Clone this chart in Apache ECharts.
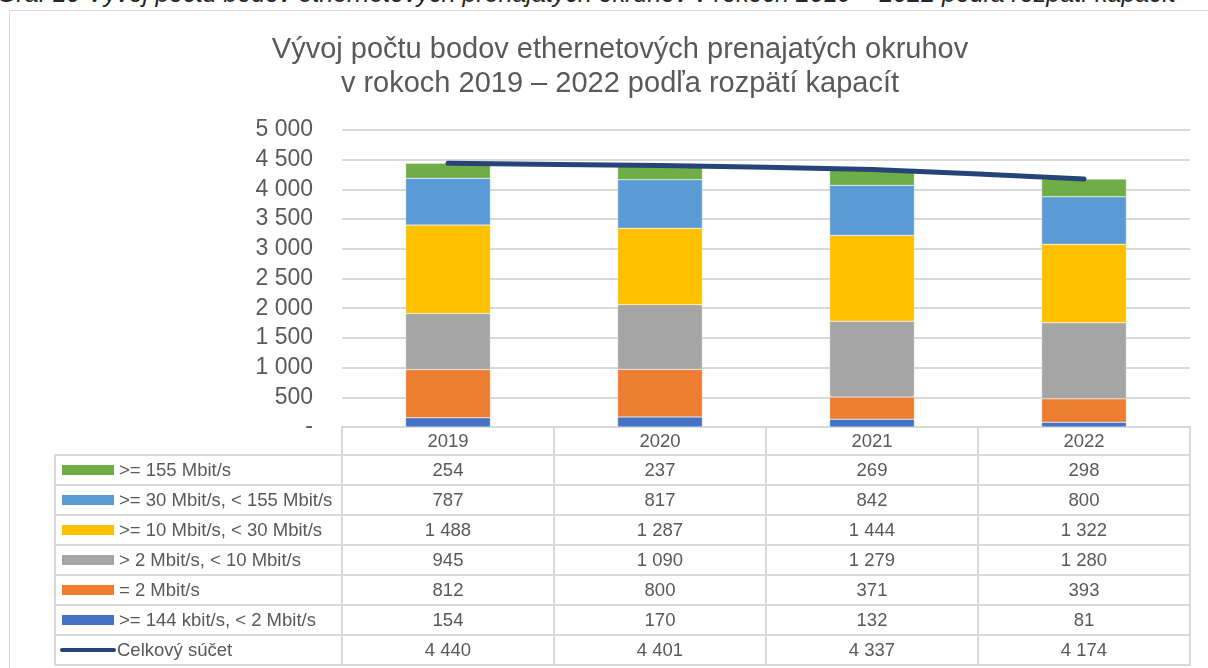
<!DOCTYPE html>
<html lang="sk">
<head>
<meta charset="UTF-8">
<title>Vývoj počtu bodov ethernetových prenajatých okruhov</title>
<script src="https://cdn.jsdelivr.net/npm/echarts@6/dist/echarts.min.js"></script>
<style>
    body { margin: 0; background: #fff; font-family: "Liberation Sans", Arial, sans-serif; }
    #wrap { position: relative; width: 1208px; height: 668px; overflow: hidden; }
    #caption {
        position: absolute; left: -3px; top: -21px; white-space: nowrap;
        font-style: italic; font-size: 25px; color: #262626; line-height: 29px;
    }
    #frame {
        position: absolute; left: 9px; top: 10px; width: 1210px; height: 670px;
        border: 1px solid #D9D9D9; box-sizing: border-box;
    }
    #chart { position: absolute; left: 0; top: 0; width: 1208px; height: 668px; }
    #tbl {
        position: absolute; left: 54px; top: 427px; border-collapse: collapse;
        font-size: 18.5px; color: #595959;
    }
    #tbl td { border: 2px solid #D9D9D9; height: 28px; padding: 0; text-align: center; }
    #tbl td.name { text-align: left; padding-left: 6px; white-space: nowrap; }
    #tbl tr.head td { height: 27px; border-top: 0; }
    #tbl tr.head td.blank { border: 0; border-bottom: 2px solid #D9D9D9; border-right: 2px solid #D9D9D9; }
    .sw { display: inline-block; width: 52px; height: 10px; margin-right: 5px; vertical-align: 1px; }
    .ln { display: inline-block; width: 56px; height: 4px; border-radius: 2px; margin-left: -2px; margin-right: 1px; vertical-align: 4px; }
</style>
</head>
<body>
<div id="wrap">
    <div id="caption">Graf 10 Vývoj počtu bodov ethernetových prenajatých okruhov v rokoch 2019 – 2022 podľa rozpätí kapacít</div>
    <div id="frame"></div>
    <div id="chart"></div>
    <table id="tbl"></table>
</div>
<script>
    // roky
    const years = ['2019', '2020', '2021', '2022'];

    // rozpätia kapacít (odspodu nahor)
    const names = ['>= 144 kbit/s, < 2 Mbit/s', '= 2 Mbit/s', '> 2 Mbit/s, < 10 Mbit/s',
                   '>= 10 Mbit/s, < 30 Mbit/s', '>= 30 Mbit/s, < 155 Mbit/s', '>= 155 Mbit/s'];
    const colors = ['#4472C4', '#ED7D31', '#A5A5A5', '#FFC000', '#5B9BD5', '#70AD47'];

    const kbit144 = [154, 170, 132, 81];
    const mbit2 = [812, 800, 371, 393];
    const mbit2to10 = [945, 1090, 1279, 1280];
    const mbit10to30 = [1488, 1287, 1444, 1322];
    const mbit30to155 = [787, 817, 842, 800];
    const mbit155 = [254, 237, 269, 298];
    const total = [4440, 4401, 4337, 4174];

    const totalName = 'Celkový súčet';
    const totalColor = '#264478';

    const seriesData = [kbit144, mbit2, mbit2to10, mbit10to30, mbit30to155, mbit155];

    function fmt(v) {
        return String(v).replace(/\B(?=(\d{3})+(?!\d))/g, ' ');
    }

    const chart = echarts.init(document.getElementById('chart'));

    const series = [];
    for (let i = 0; i < names.length; i++) {
        series.push({
            name: names[i],
            type: 'bar',
            stack: 'total',
            barWidth: '40%',
            itemStyle: { color: colors[i], borderColor: 'rgba(255,255,255,0.6)', borderWidth: 0.5 },
            data: seriesData[i]
        });
    }
    series.push({
        name: totalName,
        type: 'line',
        smooth: 0.2,
        symbol: 'none',
        z: 10,
        lineStyle: { color: totalColor, width: 5, cap: 'round' },
        data: total
    });

    const option = {
        animation: false,
        title: {
            text: 'Vývoj počtu bodov ethernetových prenajatých okruhov\nv rokoch 2019 – 2022 podľa rozpätí kapacít',
            left: 615,
            textAlign: 'center',
            top: 28,
            textStyle: {
                fontFamily: 'Liberation Sans',
                fontSize: 29,
                fontWeight: 'normal',
                color: '#595959',
                lineHeight: 34
            }
        },
        grid: { left: 342, right: 18, top: 130, bottom: 241 },
        xAxis: {
            type: 'category',
            data: years,
            axisLine: { lineStyle: { color: '#D9D9D9', width: 2 } },
            axisTick: { show: false },
            axisLabel: { show: false }
        },
        yAxis: {
            type: 'value',
            min: 0,
            max: 5000,
            interval: 500,
            axisLine: { show: false },
            axisTick: { show: false },
            splitLine: { lineStyle: { color: '#D9D9D9', width: 2 } },
            axisLabel: {
                fontFamily: 'Liberation Sans',
                fontSize: 23,
                color: '#595959',
                margin: 29,
                padding: [4, 0, 0, 0],
                formatter: function (v) { return v === 0 ? '-' : fmt(v); }
            }
        },
        series: series
    };
    chart.setOption(option);

    // tabuľka s údajmi
    const tbl = document.getElementById('tbl');
    let html = '<tr class="head"><td class="blank" style="width:286px"></td>';
    for (let j = 0; j < years.length; j++) {
        html += '<td style="width:210px">' + years[j] + '</td>';
    }
    html += '</tr>';
    for (let i = names.length - 1; i >= 0; i--) {
        html += '<tr><td class="name"><span class="sw" style="background:' + colors[i] + '"></span>' +
            names[i].replace(/</g, '&lt;').replace(/>/g, '&gt;') + '</td>';
        for (let j = 0; j < years.length; j++) {
            html += '<td>' + fmt(seriesData[i][j]) + '</td>';
        }
        html += '</tr>';
    }
    html += '<tr><td class="name"><span class="ln" style="background:' + totalColor + '"></span>' + totalName + '</td>';
    for (let j = 0; j < years.length; j++) {
        html += '<td>' + fmt(total[j]) + '</td>';
    }
    html += '</tr>';
    tbl.innerHTML = html;
</script>
</body>
</html>
